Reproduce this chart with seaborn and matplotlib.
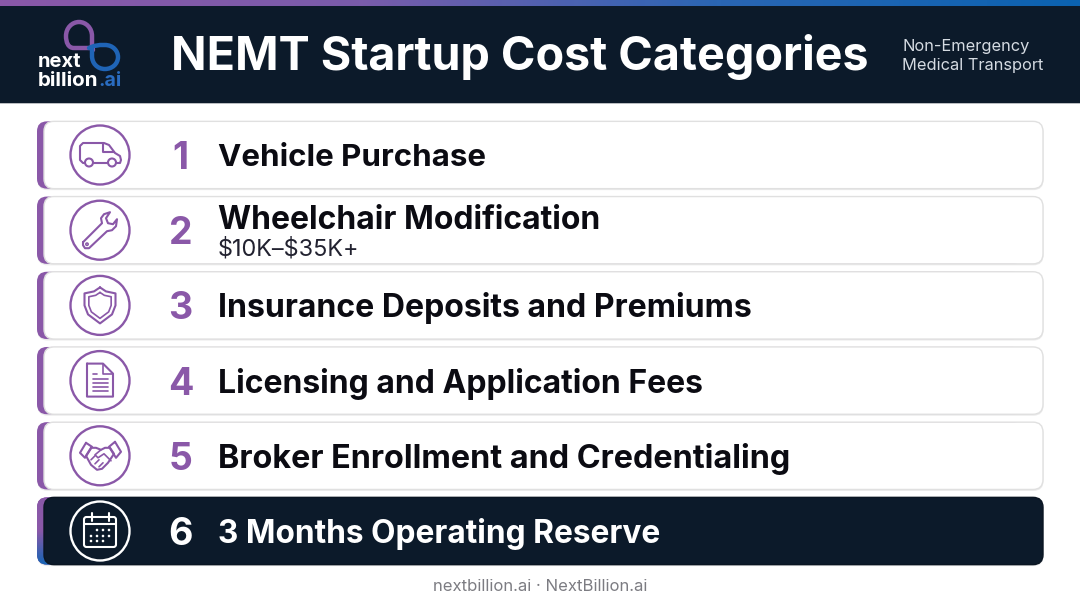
import numpy as np
import pandas as pd
import seaborn as sns
import matplotlib.pyplot as plt
from matplotlib.patches import Circle, FancyBboxPatch, PathPatch, Rectangle
from matplotlib.path import Path
from matplotlib.colors import LinearSegmentedColormap

# data
ranks = ["1", "2", "3", "4", "5", "6"]
categories = ["Vehicle Purchase", "Wheelchair Modification", "Insurance Deposits and Premiums",
              "Licensing and Application Fees", "Broker Enrollment and Credentialing",
              "3 Months Operating Reserve"]
subtitles = ["", r"\$10K–\$35K+", "", "", "", ""]
card_fill = [1, 1, 1, 1, 1, 1]
title = "NEMT Startup Cost Categories"
side_note = "Non-Emergency\nMedical Transport"
footer = "nextbillion.ai · NextBillion.ai"

NAVY = "#0c1a2a"
PURPLE = "#8a58a8"
FONT = "Inter"
# Inter runs a little differently from the original font, so each label gets its own size
label_pt = [22.5, 23.0, 23.05, 23.0, 23.3, 22.8]

sns.set_theme(style="white")
plt.rcParams["font.family"] = [FONT, "DejaVu Sans"]

fig = plt.figure(figsize=(10.8, 6.03), dpi=100, facecolor="white")

# the six rows come from a seaborn bar plot, rounded afterwards
ax = fig.add_axes([37 / 1080, 1 - 568.6 / 603, 1006 / 1080, (568.6 - 117.4) / 603])
df = pd.DataFrame({"category": categories, "fill": card_fill})
sns.barplot(data=df, y="category", x="fill", orient="h", width=0.895, color="white", ax=ax)
ax.set_xlim(0, 1)
ax.axis("off")
fig.canvas.draw()
boxes = [b.get_window_extent() for b in ax.patches]
for b in ax.patches:
    b.set_visible(False)

ov = fig.add_axes([0, 0, 1, 1], facecolor="none")
H = 603


def rounded(x0, y0, x1, y1, r, **kw):
    p = FancyBboxPatch((x0 + r, y0 + r), x1 - x0 - 2 * r, y1 - y0 - 2 * r,
                       boxstyle=f"round,pad={r},rounding_size={r}", **kw)
    ov.add_patch(p)
    return p


def stroke(points, color, lw=1.5, closed=False):
    pts = list(points) + ([points[0]] if closed else [])
    ov.plot(*zip(*pts), color=color, lw=lw, solid_capstyle="round", solid_joinstyle="round", zorder=4)


def curve(verts, codes, color, lw=1.5):
    ov.add_patch(PathPatch(Path(verts, codes), fc="none", ec=color, lw=lw, capstyle="round", zorder=4))


# header
grad = LinearSegmentedColormap.from_list("g", [PURPLE, "#7a5cab", "#2a66b4", "#0b62b0"])
ov.imshow(np.linspace(0, 1, 256)[None, :], extent=(0, 1080, 6, 0), cmap=grad, aspect="auto", zorder=1)
ov.add_patch(Rectangle((0, 6), 1080, 97, fc=NAVY, ec="none", zorder=1))
ov.add_patch(Rectangle((0, 103), 1080, 1.2, fc="#b9bcc0", ec="none", zorder=1))

ov.text(171, 57, title, color="white", fontsize=33.6, fontweight="bold", va="center", ha="left", zorder=5)
ov.text(902, 56, side_note, color="#d5dbe2", fontsize=11.8, va="center", ha="left", linespacing=1.3, zorder=5)

# logo
M, L, C = Path.MOVETO, Path.LINETO, Path.CURVE4
curve([(92, 48), (78, 48), (76, 48), (74, 48), (68, 48), (66, 42), (66, 36), (66, 28), (72, 22), (79, 22),
       (86, 22), (92, 28), (92, 36), (92, 42), (92, 46), (93, 50)],
      [M, L, L, L, C, C, C, C, C, C, C, C, C, L, L, L], PURPLE, 3.2)
curve([(89, 48), (94, 46), (100, 45), (105, 45), (113, 45), (118, 51), (118, 57), (118, 64), (112, 69), (105, 69),
       (97, 69), (92, 63), (92, 56), (92, 53), (92, 52), (92, 50)],
      [M, L, L, L, C, C, C, C, C, C, C, C, C, L, L, L], "#1f64b6", 3.2)
ov.text(38, 62, "next", color="white", fontsize=14.5, fontweight="bold", va="center", zorder=5)
ov.text(38, 81.5, "billion", color="white", fontsize=14.8, fontweight="bold", va="center", zorder=5)
ov.text(98, 81.5, ".ai", color="#2a6cc0", fontsize=14, fontweight="bold", va="center", zorder=5)


def draw_van(cx, cy, c):
    pts = [(-15, 8), (-17, 8), (-20, 5), (-20, -9), (-17, -12), (4, -12), (9, -10), (15, -2), (20, 1), (21, 5),
           (20, 8), (16, 8)]
    stroke([(cx + x, cy + y) for x, y in pts], c)
    stroke([(cx - 7, cy + 8), (cx + 8, cy + 8)], c)
    stroke([(cx + 3, cy - 11), (cx + 3, cy - 3), (cx + 14, cy - 3)], c)
    for dx in (-11, 12):
        ov.add_patch(Circle((cx + dx, cy + 7.5), 4, fc="none", ec=c, lw=1.5, zorder=4))


def draw_wrench(cx, cy, c):
    pts = [(-17, 12), (2, -7), (1, -12), (4, -16), (10, -18), (6, -12), (8, -7), (13, -6), (17, -11),
           (16, -4), (12, 0), (7, 1), (-11, 18), (-15, 18), (-17, 15)]
    stroke([(cx + x, cy + y) for x, y in pts], c, closed=True)
    ov.add_patch(Circle((cx - 13, cy + 14), 1.2, fc="none", ec=c, lw=1.1, zorder=4))


def draw_shield(cx, cy, c):
    shape = [(0, -18), (6, -14), (15.5, -12), (15.5, 0), (12, 9), (0, 18), (-12, 9), (-15.5, 0), (-15.5, -12), (-6, -14)]
    stroke([(cx + x, cy + y) for x, y in shape], c, closed=True)
    stroke([(cx + x * 0.72, cy + y * 0.72) for x, y in shape], c, lw=1.2, closed=True)


def draw_doc(cx, cy, c):
    stroke([(cx - 13, cy - 17), (cx + 3, cy - 17), (cx + 13, cy - 7), (cx + 13, cy + 16),
            (cx - 13, cy + 16)], c, closed=True)
    stroke([(cx + 3, cy - 17), (cx + 3, cy - 7), (cx + 13, cy - 7)], c, lw=1.2)
    stroke([(cx - 7, cy - 7), (cx - 3, cy - 7)], c, lw=1.2)
    for dy in (-2, 2, 6, 10):
        stroke([(cx - 7, cy + dy), (cx + 8, cy + dy)], c, lw=1.2)


def draw_hands(cx, cy, c):
    left_cuff = [(-14, -13), (-8, -9), (-15, 2), (-20, -3)]
    right_cuff = [(15, -14), (21, -4), (16, 2), (9, -9)]
    stroke([(cx + x, cy + y) for x, y in left_cuff], c, closed=True)
    stroke([(cx + x, cy + y) for x, y in right_cuff], c, closed=True)
    stroke([(cx + x, cy + y) for x, y in [(-9, -8), (-4, -8), (1, -6), (5, -8), (10, -8), (14, -2), (8, 7), (2, 13),
                                          (-3, 14), (-9, 9), (-14, 0)]], c, closed=True)
    stroke([(cx + x, cy + y) for x, y in [(1, -6), (-5, -1), (-2, 2), (4, -2), (11, 5)]], c, lw=1.2)
    for dx, dy in ((-9, 4), (-5, 8), (-1, 11)):
        stroke([(cx + dx, cy + dy), (cx + dx + 4, cy + dy - 4)], c, lw=1.2)


def draw_calendar(cx, cy, c):
    rounded(cx - 16, cy - 14, cx + 16, cy + 16, 2.5, fc="none", ec=c, lw=1.5, zorder=4)
    stroke([(cx - 16, cy - 7), (cx + 16, cy - 7)], c)
    for dx in (-8.5, 8.5):
        stroke([(cx + dx, cy - 18), (cx + dx, cy - 10)], c)
    for row, dy in enumerate((-1, 5, 10)):
        for col in range(4):
            if row == 0 and col == 0:
                continue
            if row == 2 and col > 2:
                continue
            ov.add_patch(Circle((cx - 9 + col * 6, cy + dy), 1.3, fc=c, ec="none", zorder=4))


icons = [draw_van, draw_wrench, draw_shield, draw_doc, draw_hands, draw_calendar]

# cards
for i, box in enumerate(boxes):
    y0, y1 = H - box.y1, H - box.y0
    x0, x1 = box.x0, box.x1
    cy = (y0 + y1) / 2
    last = i == len(boxes) - 1
    c = "white" if last else PURPLE
    text_c = "white" if last else "#0b0b12"

    rounded(x0 + 0.5, y0 + 1.5, x1 + 0.5, y1 + 1.5, 10, fc="#ececec", ec="none", zorder=2)
    accent = rounded(x0, y0, x1 - 20, y1, 10, fc=PURPLE, ec="none", zorder=2)
    if last:
        im = ov.imshow(np.linspace(0, 1, 64)[:, None],
                       extent=(x0, x1 - 20, y1, y0), aspect="auto", zorder=2.1,
                       cmap=LinearSegmentedColormap.from_list("a", [PURPLE, PURPLE, "#1565b5"]), origin="upper")
        im.set_clip_path(accent)
    rounded(x0 + 7, y0, x1, y1, 10, fc=NAVY if last else "white",
            ec="#0a1522" if last else "#e0e0e0", lw=1, zorder=3)

    ov.add_patch(Circle((100, cy), 29.5, fc="none", ec=c, lw=1.7, zorder=4))
    icons[i](100, cy, c)

    ov.text(180.5, cy, ranks[i], color=c, fontsize=27, fontweight="bold", ha="center", va="center_baseline", zorder=5)
    if subtitles[i]:
        ov.text(217.5, cy - 13, categories[i], color=text_c, fontsize=label_pt[i], fontweight="bold", va="center_baseline", zorder=5)
        ov.text(217.5, cy + 16.5, subtitles[i], color="#222230", fontsize=16.9, va="center_baseline", zorder=5)
    else:
        ov.text(217.5, cy - 0.5, categories[i], color=text_c, fontsize=label_pt[i], fontweight="bold", va="center_baseline", zorder=5)

ov.text(540, 586.5, footer, color="#7c7c82", fontsize=12, ha="center", va="center", zorder=5)

ov.set_xlim(0, 1080)
ov.set_ylim(603, 0)
ov.axis("off")

fig.savefig("out.png", dpi=100)
